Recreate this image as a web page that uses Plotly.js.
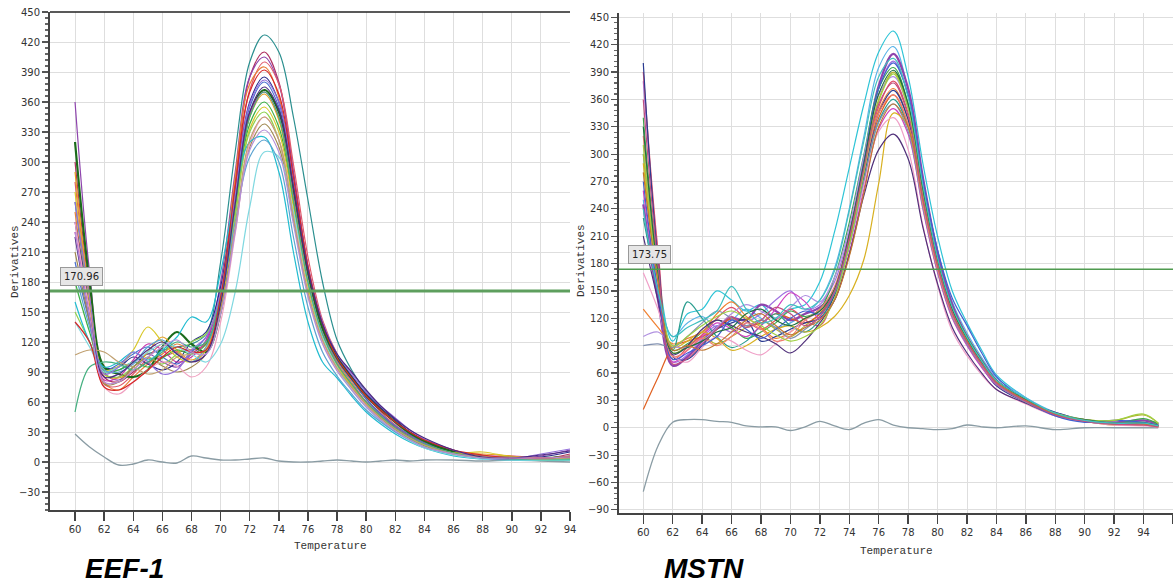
<!DOCTYPE html>
<html><head><meta charset="utf-8">
<script src="https://cdn.plot.ly/plotly-3.0.1.min.js"></script>
<style>html,body{margin:0;padding:0;background:#fff;}#chart{width:1173px;height:584px;}</style>
</head><body><div id="chart"></div>
<script>
// ---------- EEF-1 data ----------
const eefTemps = [60,61,62,63,64,65,66,67,68,69,70,71,72,73,74,75,76,77,78,79,80,81,82,83,84,86,88,90,92,94];
const eefThreshold = 170.96;
const eefCurves = [
 [260,160,95,92,100,108,112,115,118,128,200,310,400,427,410,345,262,180,122,92,70,53,39,28,20,10,5,5,4,6],
 [300,170,85,80,90,100,105,110,112,118,170,280,385,410,380,290,195,135,102,82,63,48,35,26,18,9,6,4,3,8],
 [360,190,90,82,95,108,100,95,108,120,180,290,385,405,378,290,195,138,105,85,66,52,40,30,22,11,5,3,6,12],
 [280,160,78,76,88,104,118,110,100,112,165,270,372,400,378,298,205,142,108,86,67,50,37,27,20,11,6,5,3,6],
 [250,150,80,72,85,98,108,118,112,118,172,285,378,395,365,278,190,132,100,80,60,46,34,25,18,9,4,4,4,3],
 [240,160,95,95,105,98,92,100,120,130,175,270,360,385,360,280,192,136,106,86,68,54,42,30,22,11,6,4,5,10],
 [200,140,92,98,108,115,105,98,110,125,165,262,355,380,355,275,188,132,102,82,63,48,36,27,19,10,4,5,3,4],
 [320,180,95,88,85,92,115,130,118,110,150,252,348,372,350,272,188,134,104,84,66,52,40,29,21,10,5,4,4,5],
 [230,150,82,85,102,118,112,100,105,122,168,262,348,370,345,265,182,128,98,78,60,46,34,25,18,9,6,6,4,4],
 [290,165,88,84,92,110,125,112,102,115,160,255,345,368,342,262,180,127,97,77,59,45,33,24,17,9,8,6,3,3],
 [180,130,90,92,100,95,104,112,108,118,160,250,338,360,335,258,178,126,96,76,58,44,32,23,16,8,4,4,2,2],
 [270,160,92,96,112,135,120,105,100,112,155,245,333,355,330,255,176,125,96,76,58,44,33,24,17,9,10,5,3,4],
 [150,120,88,85,95,105,98,108,120,128,165,248,330,350,322,245,168,120,92,74,56,42,31,22,15,7,5,3,2,3],
 [210,140,78,80,95,104,96,90,95,108,150,232,315,338,315,242,168,120,92,74,57,44,33,24,17,9,6,5,4,6],
 [240,150,75,68,80,92,100,96,85,95,140,228,318,345,322,248,170,120,92,73,56,42,31,22,15,8,5,4,4,5],
 [160,120,95,100,110,102,112,125,145,140,190,268,320,325,290,210,140,100,84,66,50,38,28,20,14,6,3,2,2,2],
 [140,115,90,95,100,110,118,115,108,100,118,170,255,310,305,250,180,125,95,72,55,41,30,21,14,7,3,2,2,2],
 [190,135,92,90,98,115,122,108,100,115,162,240,305,322,300,225,155,110,86,68,52,40,30,22,15,8,4,3,3,4],
 [260,165,88,95,110,100,88,92,112,125,170,268,358,382,360,282,196,140,108,88,70,56,44,32,23,12,4,3,8,13],
 [50,95,100,98,92,100,110,120,115,120,165,258,345,370,345,262,180,128,98,78,60,46,34,25,18,9,4,3,3,3],
 [107,112,110,100,95,88,92,105,108,112,150,235,322,345,322,245,170,122,94,75,58,44,33,24,17,8,5,4,3,4],
 [140,120,75,72,80,92,105,115,110,112,165,275,370,392,368,285,196,138,104,84,66,52,40,30,22,12,7,4,4,5],
 [225,145,85,88,100,112,120,108,100,108,158,258,350,375,352,275,192,138,108,90,72,56,43,32,24,12,5,4,7,11],
 [230,145,80,80,92,105,115,122,110,108,148,230,312,332,310,238,165,118,91,72,55,42,31,22,15,8,4,4,4,5]
];
const eefColors = ['#2a8f8f','#b03060','#8e44ad','#e05a6a','#e8803a','#2b2b8c','#4a6fd0','#1b6b1b','#c837ab','#e6a020','#3cb043','#d8c82a','#8fd14f','#a08850','#f0a0c0','#21bcd0','#7fd8e0','#5ba3d0','#9370db','#45b080','#c0a070','#d62728','#4b2a80','#b58fd8'];
const eefControl = [28,15,5,-3,-2,2,0,-1,6,4,2,2,3,4,1,0,0,1,2,1,0,1,2,1,2,2,1,2,1,0];

// ---------- MSTN data ----------
const mstnTemps = [60,61,62,63,64,65,66,67,68,69,70,71,72,73,74,75,76,77,78,79,80,81,82,83,84,86,88,90,92,94,95];
const mstnThreshold = 173.75;
const mstnCurves = [
 [300,170,95,125,130,150,140,128,135,120,130,135,160,215,285,355,412,435,385,290,210,150,115,85,58,33,16,8,5,6,3],
 [250,150,100,115,122,110,118,130,120,110,115,125,140,175,240,320,395,418,370,272,195,138,104,77,55,33,17,9,5,5,3],
 [245,140,68,78,95,110,120,118,135,128,118,125,132,150,205,290,375,410,372,275,192,135,100,74,52,30,15,8,6,8,4],
 [380,190,72,80,98,112,105,115,125,140,150,130,135,160,215,295,372,402,365,268,185,130,98,72,50,30,14,7,5,4,2],
 [340,175,85,92,105,118,110,98,105,115,128,122,130,165,225,300,372,395,355,262,185,132,100,74,52,31,15,8,4,10,4],
 [300,165,82,90,100,92,100,110,118,108,100,112,125,150,205,285,360,390,352,260,182,128,97,72,51,30,15,9,8,14,5],
 [390,195,75,88,102,120,132,118,108,118,130,118,112,148,210,285,352,380,345,255,180,128,96,70,49,29,14,7,4,3,1],
 [130,110,92,98,105,125,138,122,110,98,105,120,128,152,210,282,348,372,338,252,178,126,95,70,50,30,15,8,4,4,2],
 [20,55,88,95,100,108,120,112,115,125,120,115,125,150,205,278,340,365,332,248,176,124,94,69,49,29,14,7,3,3,1],
 [400,185,78,75,90,108,115,118,95,100,108,115,120,145,200,275,345,370,338,250,175,124,92,68,46,28,17,8,5,5,3],
 [230,150,85,138,120,100,88,95,112,125,112,105,118,148,200,270,336,360,330,245,172,122,92,68,48,29,14,8,4,4,2],
 [260,150,72,85,100,115,108,100,112,130,148,138,120,140,192,262,328,350,322,240,170,120,90,66,47,28,13,7,4,4,2],
 [290,160,88,95,105,98,85,90,100,108,112,105,110,122,145,185,268,345,330,250,178,126,95,70,50,30,15,9,5,6,3],
 [170,130,80,72,88,100,95,85,80,92,105,118,128,150,200,268,325,340,305,222,156,106,79,58,42,26,13,7,3,2,1],
 [210,140,80,90,108,118,112,105,100,92,82,95,115,140,190,255,305,322,295,220,158,110,82,60,42,27,14,8,5,5,2],
 [100,105,90,88,95,110,125,135,128,120,132,145,138,165,220,298,365,385,350,258,182,130,98,72,51,31,15,9,5,5,2],
 [90,92,88,100,115,128,120,112,118,110,98,108,122,148,200,272,335,355,325,242,172,122,92,68,48,28,14,7,4,4,2],
 [320,170,78,85,98,90,100,115,108,95,100,118,130,155,210,282,345,365,332,246,174,124,94,69,49,29,14,8,4,3,1],
 [270,150,75,82,90,100,118,108,98,108,120,128,125,150,210,292,372,400,365,272,195,142,112,82,56,30,13,6,8,6,3],
 [310,165,90,100,112,122,128,120,112,102,95,100,112,142,200,280,358,388,350,258,182,128,96,70,50,30,16,9,8,15,5],
 [330,170,82,88,95,105,110,125,130,118,112,120,128,152,212,290,366,392,355,262,184,130,98,72,52,31,15,9,5,5,2],
 [280,160,85,90,85,92,105,118,125,112,102,110,118,140,188,258,330,355,330,250,178,126,95,70,50,30,15,8,4,4,2],
 [360,180,70,76,92,108,122,110,118,132,125,112,122,150,208,285,355,378,342,252,178,126,94,70,49,29,14,7,4,3,1],
 [240,150,100,110,118,128,155,130,115,120,135,130,140,172,238,315,385,405,362,266,186,132,99,73,52,32,16,8,5,5,2]
];
const mstnColors = ['#2ec4d6','#5ab4e8','#8e44ad','#a070e0','#3aa84a','#b5b030','#e0506a','#f08030','#e06020','#2a3a90','#2a9d8f','#d040c0','#d8b020','#f0a0c8','#50307a','#b090e0','#8090b0','#f08070','#4060d0','#a0d040','#207040','#c07830','#c05080','#40c0c0'];
const mstnControl = [-70,-20,6,9,9,7,6,2,1,1,-3,1,7,2,-2,5,9,3,0,-1,-2,-1,3,1,0,2,-2,0,0,0,0];

const geneNames = ['EEF-1','MSTN'];
const axisTitleY = 'Derivatives';
const axisTitleX = 'Temperature';

// ---------- build traces ----------
const traces = [];
function addPanel(temps, curves, colors, control, xa, ya, thickIdx) {
  traces.push({x: temps, y: control, xaxis: xa, yaxis: ya, mode: 'lines',
    line: {color: '#8a9ca4', width: 1.3, shape: 'spline', smoothing: 1}, hoverinfo: 'skip'});
  curves.forEach((c, i) => {
    traces.push({x: temps, y: c, xaxis: xa, yaxis: ya, mode: 'lines',
      line: {color: colors[i % colors.length], width: (i === thickIdx ? 2.2 : 1.2), shape: 'spline', smoothing: 1},
      hoverinfo: 'skip'});
  });
}
addPanel(eefTemps, eefCurves, eefColors, eefControl, 'x', 'y', 7);
addPanel(mstnTemps, mstnCurves, mstnColors, mstnControl, 'x2', 'y2', 2);

const W = 1173, H = 584;
const px = v => v / W, py = v => 1 - v / H;

const tickFont = {family: 'DejaVu Sans, Verdana, sans-serif', size: 10, color: '#333'};
const monoFont = {family: 'Liberation Mono, Courier New, monospace', size: 11, color: '#333'};

function xAxis(domain, range, anchor) {
  return {domain, range, anchor, dtick: 2, tick0: 0, ticks: 'outside', ticklen: 9, tickwidth: 1.5,
    tickcolor: '#444', showline: true, linecolor: '#444', linewidth: 2, showgrid: true,
    gridcolor: '#dedede', gridwidth: 1, zeroline: false, tickfont: tickFont, fixedrange: true};
}
function yAxis(domain, range, anchor) {
  return {domain, range, anchor, dtick: 30, tick0: 0, ticks: 'outside', ticklen: 6, tickwidth: 1.2,
    tickcolor: '#555', showline: true, linecolor: '#444', linewidth: 2, showgrid: true,
    gridcolor: '#dedede', gridwidth: 1, zeroline: false, tickfont: tickFont, fixedrange: true,
    minor: {dtick: 6, ticks: 'outside', ticklen: 3, tickcolor: '#666', showgrid: false}};
}
function note(text, x, y, font, extra) {
  return Object.assign({text, xref: 'paper', yref: 'paper', x: px(x), y: py(y),
    xanchor: 'center', yanchor: 'middle', showarrow: false, font}, extra || {});
}
const boxFont = {family: 'DejaVu Sans, sans-serif', size: 10, color: '#222'};
const boxStyle = {bgcolor: '#e6e6e6', bordercolor: '#999', borderwidth: 1, borderpad: 3};
const geneFont = {family: 'Liberation Sans, Arial, sans-serif', size: 28, color: '#000'};

const layout = {
  width: W, height: H, margin: {l: 0, r: 0, t: 0, b: 0},
  paper_bgcolor: '#fff', plot_bgcolor: '#fff', showlegend: false, hovermode: false,
  xaxis: xAxis([px(50), px(570)], [58.28, 94], 'y'),
  yaxis: yAxis([1 - 510 / H, 1 - 12 / H], [-48, 450], 'x'),
  xaxis2: xAxis([px(619), 1], [58.35, 96], 'y2'),
  yaxis2: yAxis([1 - 513.3 / H, 1 - 12.8 / H], [-93.8, 455], 'x2'),
  shapes: [
    {type: 'line', xref: 'x', yref: 'y', x0: 58.28, x1: 94, y0: eefThreshold, y1: eefThreshold,
      line: {color: '#5e9f5e', width: 3}},
    {type: 'line', xref: 'x2', yref: 'y2', x0: 58.35, x1: 96, y0: mstnThreshold, y1: mstnThreshold,
      line: {color: '#4f9a4f', width: 1.6}},
    {type: 'line', xref: 'paper', yref: 'paper', x0: px(50), x1: px(570), y0: py(12), y1: py(12),
      line: {color: '#222', width: 1.5}}
  ],
  annotations: [
    note(eefThreshold.toFixed(2), 81, 276, boxFont, boxStyle),
    note(mstnThreshold.toFixed(2), 649, 254, boxFont, boxStyle),
    note(axisTitleY, 15, 262, monoFont, {textangle: -90}),
    note(axisTitleY, 581, 261, monoFont, {textangle: -90}),
    note(axisTitleX, 330, 546, monoFont),
    note(axisTitleX, 896, 551, monoFont),
    note('<b><i>' + geneNames[0] + '</i></b>', 124, 568, geneFont),
    note('<b><i>' + geneNames[1] + '</i></b>', 704, 568, geneFont)
  ]
};

Plotly.newPlot('chart', traces, layout, {staticPlot: true, displayModeBar: false});
</script>
</body></html>
